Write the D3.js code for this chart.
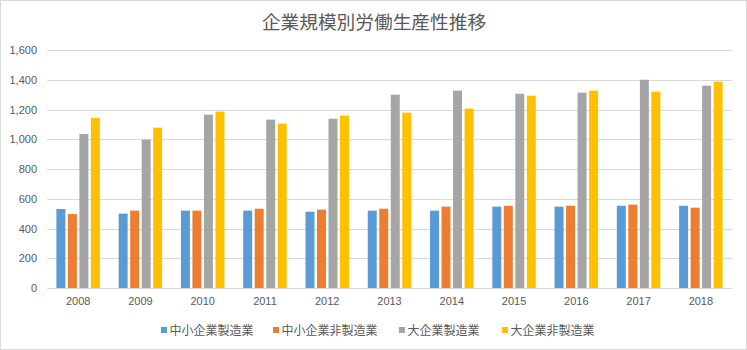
<!DOCTYPE html>
<html lang="ja">
<head>
<meta charset="utf-8">
<script src="https://cdn.jsdelivr.net/npm/d3@7"></script>
<style>
  html, body { margin: 0; padding: 0; background: #fff; }
  svg { display: block; }
  .jp { font-family: "Noto Sans CJK JP", "Noto Sans", sans-serif; }
  .num { font-family: "Liberation Sans", Arial, sans-serif; }
</style>
</head>
<body>
<svg id="chart" width="747" height="350"></svg>
<script>
// 企業規模別労働生産性（万円/人）
const years = ["2008", "2009", "2010", "2011", "2012", "2013", "2014", "2015", "2016", "2017", "2018"];
const seriesNames = ["中小企業製造業", "中小企業非製造業", "大企業製造業", "大企業非製造業"];
const smeManufacturing = [531, 500, 520, 520, 513, 520, 520, 547, 547, 553, 553];
const smeNonManufacturing = [497, 520, 520, 533, 527, 533, 547, 553, 553, 560, 540];
const largeManufacturing = [1035, 997, 1165, 1132, 1138, 1300, 1327, 1306, 1313, 1400, 1360];
const largeNonManufacturing = [1143, 1078, 1186, 1105, 1159, 1179, 1206, 1293, 1327, 1320, 1387];
const yTicks = [0, 200, 400, 600, 800, 1000, 1200, 1400, 1600];
const colors = ["#5B9BD5", "#ED7D31", "#A5A5A5", "#FFC000"];

const seriesValues = [smeManufacturing, smeNonManufacturing, largeManufacturing, largeNonManufacturing];

const svg = d3.select("#chart");
const W = 747, H = 350;

// outer frame
svg.append("rect")
  .attr("x", 0.5).attr("y", 0.5)
  .attr("width", W - 1).attr("height", H - 1)
  .attr("fill", "#fff").attr("stroke", "#d9d9d9");

// title
svg.append("text")
  .attr("class", "jp")
  .attr("x", 374).attr("y", 29)
  .attr("text-anchor", "middle")
  .attr("font-size", "18.7px")
  .attr("fill", "#595959")
  .text("企業規模別労働生産性推移");

const plot = { left: 47, right: 732, top: 50, bottom: 288 };

const y = d3.scaleLinear().domain([0, 1600]).range([plot.bottom, plot.top]);
const x0 = d3.scaleBand().domain(years).range([plot.left, plot.right]);
const groupW = 43.5;
const x1 = d3.scaleBand().domain(seriesNames)
  .range([(x0.bandwidth() - groupW) / 2, (x0.bandwidth() + groupW) / 2])
  .paddingInner(0.22);

// gridlines
svg.append("g")
  .selectAll("line")
  .data(yTicks)
  .join("line")
  .attr("x1", plot.left).attr("x2", plot.right)
  .attr("y1", d => Math.round(y(d)) + 0.5)
  .attr("y2", d => Math.round(y(d)) + 0.5)
  .attr("stroke", "#d9d9d9")
  .attr("stroke-width", 1);

// y tick labels
const yAxis = d3.axisLeft(y).tickValues(yTicks).tickFormat(d3.format(",")).tickSize(0).tickPadding(0);
const gy = svg.append("g")
  .attr("transform", `translate(${plot.left - 10},0)`)
  .call(yAxis);
gy.select(".domain").remove();
gy.selectAll("text")
  .attr("class", "num")
  .attr("font-size", "11px")
  .attr("fill", "#595959");

// x axis labels
const xAxis = d3.axisBottom(x0).tickSize(0).tickPadding(0);
const gx = svg.append("g")
  .attr("transform", `translate(0,${plot.bottom + 9})`)
  .call(xAxis);
gx.select(".domain").remove();
gx.selectAll("text")
  .attr("class", "num")
  .attr("font-size", "11px")
  .attr("fill", "#595959");

// bars
const groups = svg.append("g")
  .selectAll("g")
  .data(years)
  .join("g")
  .attr("transform", d => `translate(${x0(d)},0)`);

groups.selectAll("rect")
  .data((d, i) => seriesNames.map((s, k) => ({ s, k, v: seriesValues[k][i] })))
  .join("rect")
  .attr("x", d => x1(d.s))
  .attr("width", x1.bandwidth())
  .attr("y", d => y(d.v))
  .attr("height", d => y(0) - y(d.v))
  .attr("fill", d => colors[d.k]);

// legend
const legendX = [161, 273, 399, 502];
const legend = svg.append("g")
  .selectAll("g")
  .data(seriesNames)
  .join("g")
  .attr("transform", (d, i) => `translate(${legendX[i]},330)`);

legend.append("rect")
  .attr("x", 0).attr("y", -3)
  .attr("width", 6).attr("height", 6)
  .attr("fill", (d, i) => colors[i]);

legend.append("text")
  .attr("class", "jp")
  .attr("x", 8.5).attr("y", 4.5)
  .attr("font-size", "12px")
  .attr("fill", "#595959")
  .text(d => d);
</script>
</body>
</html>
